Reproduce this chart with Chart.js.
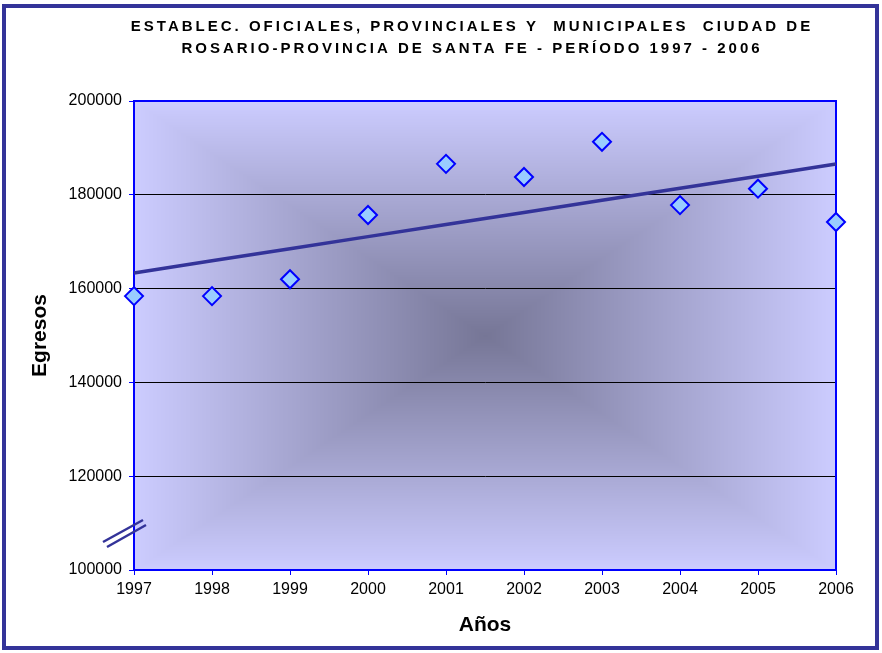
<!DOCTYPE html>
<html>
<head>
<meta charset="utf-8">
<script src="https://cdn.jsdelivr.net/npm/chart.js@4"></script>
<style>
  html, body { margin: 0; padding: 0; background: #fff; }
  #wrap { width: 882px; height: 653px; position: relative; }
</style>
</head>
<body>
<div id="wrap"><canvas id="chart"></canvas></div>
<script>
// data
const years = ['1997', '1998', '1999', '2000', '2001', '2002', '2003', '2004', '2005', '2006'];
const egresos = [158400, 158400, 162000, 175700, 186600, 183800, 191300, 177800, 181300, 174200];
const yTicks = [100000, 120000, 140000, 160000, 180000, 200000];
const titleLines = [
  'ESTABLEC. OFICIALES, PROVINCIALES Y  MUNICIPALES  CIUDAD DE',
  'ROSARIO-PROVINCIA DE SANTA FE - PERÍODO 1997 - 2006'
];

// linear trend of the series (least squares)
function trendOf(values) {
  const n = values.length;
  const mx = (n - 1) / 2;
  const my = values.reduce((a, b) => a + b, 0) / n;
  let sxy = 0, sxx = 0;
  values.forEach((v, i) => { sxy += (i - mx) * (v - my); sxx += (i - mx) * (i - mx); });
  const slope = sxy / sxx;
  return values.map((v, i) => my + slope * (i - mx));
}
const trend = trendOf(egresos);

const FONT = '"Liberation Sans", Arial, sans-serif';

// background gradient, outer frame, title, plot border, axis break
const decor = {
  id: 'decor',
  beforeDraw(chart) {
    const ctx = chart.ctx;
    const a = chart.chartArea;
    const x0 = Math.round(a.left), y0 = Math.round(a.top);
    const w = Math.round(a.right) - x0, h = Math.round(a.bottom) - y0;
    const img = ctx.createImageData(w, h);
    const edge = [204, 204, 255], mid = [118, 118, 150];
    for (let y = 0; y < h; y++) {
      const dy = Math.abs(y - h / 2) / (h / 2);
      for (let x = 0; x < w; x++) {
        const dx = Math.abs(x - w / 2) / (w / 2);
        const t = Math.min(1, Math.max(dx, dy));
        const k = (y * w + x) * 4;
        img.data[k] = mid[0] + (edge[0] - mid[0]) * t;
        img.data[k + 1] = mid[1] + (edge[1] - mid[1]) * t;
        img.data[k + 2] = mid[2] + (edge[2] - mid[2]) * t;
        img.data[k + 3] = 255;
      }
    }
    ctx.putImageData(img, x0, y0);

    ctx.save();
    ctx.strokeStyle = '#333399';
    ctx.lineWidth = 4;
    ctx.strokeRect(4, 6, 873, 642);

    ctx.fillStyle = '#000';
    ctx.font = 'bold 15px ' + FONT;
    ctx.textAlign = 'center';
    ctx.textBaseline = 'middle';
    ctx.letterSpacing = '3px';
    ctx.fillText(titleLines[0], 472, 27);
    ctx.fillText(titleLines[1], 472, 49);
    ctx.restore();
  },
  beforeDatasetsDraw(chart) {
    const ctx = chart.ctx;
    const a = chart.chartArea;
    ctx.save();
    ctx.strokeStyle = '#0000ff';
    ctx.lineWidth = 2;
    ctx.strokeRect(a.left, a.top, a.right - a.left, a.bottom - a.top);

    ctx.strokeStyle = '#333399';
    ctx.lineWidth = 2.5;
    ctx.beginPath();
    ctx.moveTo(103, 542); ctx.lineTo(143, 520);
    ctx.moveTo(107, 547); ctx.lineTo(146, 525);
    ctx.stroke();
    ctx.restore();
  }
};

new Chart(document.getElementById('chart'), {
  type: 'line',
  data: {
    labels: years,
    datasets: [
      {
        label: 'Egresos',
        data: egresos,
        showLine: false,
        pointStyle: 'rectRot',
        pointRadius: 9,
        pointHoverRadius: 9,
        pointBackgroundColor: '#99ccff',
        pointBorderColor: '#0000ff',
        pointBorderWidth: 2,
        clip: false,
        order: 1
      },
      {
        label: 'Tendencia',
        data: trend,
        borderColor: '#333399',
        borderWidth: 3.5,
        pointRadius: 0,
        fill: false,
        order: 2
      }
    ]
  },
  options: {
    responsive: true,
    maintainAspectRatio: false,
    animation: false,
    layout: { padding: { left: 10, right: 46, top: 101, bottom: 8 } },
    plugins: {
      legend: { display: false },
      tooltip: { enabled: false }
    },
    scales: {
      x: {
        type: 'category',
        offset: false,
        afterFit(scale) { scale.height = 75; },
        grid: { drawOnChartArea: false, tickLength: 5, tickColor: '#0000ff', color: '#0000ff' },
        border: { color: '#0000ff', width: 2 },
        ticks: { color: '#000', font: { family: FONT, size: 16 }, padding: 5, maxRotation: 0 },
        title: { display: true, text: 'Años', color: '#000', font: { family: FONT, size: 21, weight: 'bold' }, padding: { top: 0, bottom: 7 } }
      },
      y: {
        min: 100000,
        max: 200000,
        afterFit(scale) { scale.width = 124; },
        afterBuildTicks(scale) { scale.ticks = yTicks.map(v => ({ value: v })); },
        grid: { color: '#000', tickColor: '#0000ff', tickLength: 5, lineWidth: 1 },
        border: { color: '#0000ff', width: 2 },
        ticks: { color: '#000', font: { family: FONT, size: 16 }, padding: 7, callback: v => String(v) },
        title: { display: true, text: 'Egresos', color: '#000', font: { family: FONT, size: 21, weight: 'bold' }, padding: { top: 18, bottom: 0 } }
      }
    }
  },
  plugins: [decor]
});
</script>
</body>
</html>
